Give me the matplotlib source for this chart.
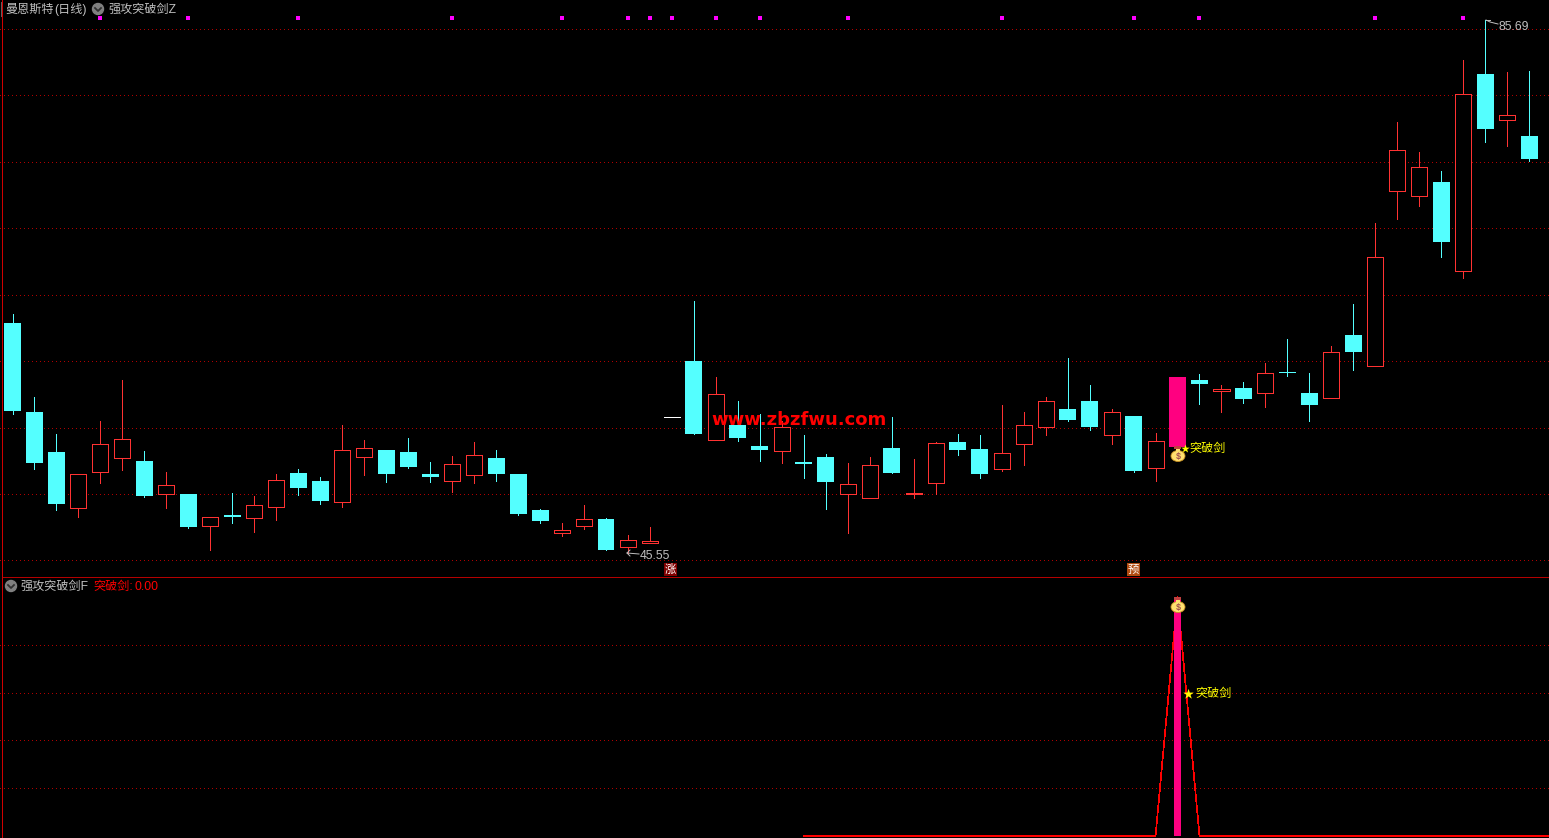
import matplotlib
matplotlib.use('Agg')
import matplotlib.pyplot as plt
from matplotlib.patches import Circle, Ellipse, Rectangle

plt.rcParams['font.family'] = ['Liberation Sans', 'Noto Sans CJK SC', 'DejaVu Sans']

#Daily bars, left to right
opens = [62.87, 56.17, 53.16, 48.95, 51.66, 52.71, 52.49, 50.00, 50.00, 47.59,
         48.42, 48.20, 49.02, 51.58, 50.98, 49.40, 52.79, 53.31, 53.16, 51.51,
         50.98, 51.43, 52.71, 51.51, 48.80, 47.07, 47.59, 48.12, 46.01, 46.31,
         55.80, 60.01, 54.07, 55.19, 53.61, 53.24, 52.41, 52.79, 50.00, 49.70,
         53.46, 50.00, 50.83, 53.92, 53.39, 51.88, 53.76, 55.04, 56.40, 57.00,
         54.44, 55.87, 51.96, 53.54, 58.58, 57.75, 57.98, 57.60, 59.18, 57.60,
         57.23, 61.97, 59.63, 72.81, 72.43, 73.48, 66.78, 81.61, 78.15, 76.94]
highs = [63.55, 57.30, 54.52, 51.51, 55.50, 58.58, 53.24, 51.66, 50.00, 48.27,
         50.08, 49.85, 51.51, 51.88, 51.28, 55.19, 54.07, 53.31, 54.22, 52.41,
         52.86, 53.92, 53.31, 51.51, 48.87, 47.82, 49.17, 48.20, 46.92, 47.52,
         55.80, 64.53, 58.81, 57.00, 56.02, 55.50, 54.44, 53.01, 52.33, 52.79,
         55.80, 52.64, 53.92, 54.52, 54.44, 56.70, 56.17, 57.30, 60.24, 58.20,
         56.40, 55.87, 54.59, 58.81, 59.03, 58.20, 58.43, 59.86, 61.67, 59.11,
         61.14, 64.30, 70.40, 78.00, 75.74, 74.31, 82.66, 85.69, 81.76, 81.84]
lows = [56.02, 51.88, 48.80, 48.27, 50.83, 51.81, 49.78, 48.95, 47.44, 45.79,
        47.82, 47.14, 48.04, 49.93, 49.25, 49.02, 51.43, 50.90, 51.96, 50.90,
        50.15, 50.83, 50.98, 48.42, 47.82, 46.84, 47.37, 45.79, 45.55, 46.31,
        55.80, 54.52, 54.07, 53.99, 52.49, 52.33, 51.21, 48.87, 47.07, 49.70,
        51.58, 49.70, 50.00, 52.94, 51.21, 51.73, 52.18, 54.44, 55.50, 54.82,
        53.76, 51.66, 50.98, 53.54, 56.77, 56.17, 56.85, 56.55, 58.88, 55.50,
        57.23, 59.33, 59.63, 70.70, 71.68, 67.84, 66.26, 76.49, 76.19, 75.06]
closes = [56.25, 52.33, 49.25, 51.51, 53.76, 54.14, 49.85, 50.68, 47.52, 48.27,
          48.27, 49.17, 51.06, 50.45, 49.47, 53.31, 53.46, 51.51, 52.03, 51.28,
          52.26, 52.94, 51.51, 48.50, 47.97, 47.29, 48.12, 45.79, 46.54, 46.46,
          55.80, 54.52, 57.53, 54.22, 53.31, 55.04, 52.26, 50.90, 50.75, 52.18,
          51.58, 50.08, 53.84, 53.31, 51.51, 53.09, 55.19, 57.00, 55.57, 55.04,
          56.17, 51.73, 53.99, 58.81, 58.28, 57.90, 57.15, 59.11, 59.11, 56.70,
          60.69, 60.69, 67.84, 75.89, 74.61, 68.97, 80.11, 77.47, 78.53, 75.21]

price_grid = [85, 80, 75, 70, 65, 60, 55, 50, 45]
marker_bars = [4, 8, 13, 20, 25, 28, 29, 30, 32, 34, 38, 45, 51, 54, 62, 66]
signal_bar = 53

#Lower panel: signal series starts at bar 36 and runs off the right edge
signal_x = [36, 52, 53, 54, 70]
signal_y = [0, 0, 1, 0, 0]
signal_grid = [0.2, 0.4, 0.6, 0.8]

CYAN = '#54FFFF'
RED = '#FF3232'
PINK = '#FF0080'
GRID = '#B00000'
FRAME = '#B40000'
GREY = '#C0C0C0'
YELLOW = '#FFFF00'

W, H = 1549, 838
fig = plt.figure(figsize=(W / 100, H / 100), dpi=100, facecolor='black')
ax = fig.add_axes([0, 1 - 577 / H, 1, 577 / H], facecolor='black')
ax2 = fig.add_axes([0, 0, 1, 260 / H], facecolor='black')
top = fig.add_axes([0, 0, 1, 1], facecolor='none')

for a in (ax, ax2):
    a.set_xlim(-0.569, 69.9)
    a.set_xticks([])
    a.set_yticks([])
    for s in a.spines.values():
        s.set_visible(False)
ax.set_ylim(87.18 - 0.07526 * 577, 87.18)
ax2.set_ylim(-0.0084, 1.0795)

top.set_xlim(0, W)
top.set_ylim(H, 0)
top.axis('off')

#Grid lines
for v in price_grid:
    ax.axhline(v, color=GRID, lw=0.72, ls=(0, (1, 3)), antialiased=False, zorder=1)
for v in signal_grid:
    ax2.axhline(v, color=GRID, lw=0.72, ls=(0, (1, 3)), antialiased=False, zorder=1)

#Candles
for i in range(len(opens)):
    o, h, l, c = opens[i], highs[i], lows[i], closes[i]
    if i == signal_bar:
        col = PINK
    elif o == c:
        col = 'white'
    elif c > o:
        col = RED
    else:
        col = CYAN
    if o == c:
        ax.hlines(o, i - 0.36, i + 0.36, color=col, lw=0.72, antialiased=False, zorder=3)
        continue
    ax.vlines(i, l, h, color=col, lw=0.72, antialiased=False, zorder=2)
    if col == RED:
        ax.bar(i, abs(c - o), bottom=min(o, c), width=0.73, facecolor='black',
               edgecolor=col, linewidth=0.72, antialiased=False, zorder=3)
    else:
        ax.bar(i, abs(c - o), bottom=min(o, c), width=0.77, color=col,
               antialiased=False, zorder=3)

ax.scatter(marker_bars, [87.18 - 0.07526 * 18] * len(marker_bars), marker='s', s=7,
           color='#FF00FF', linewidths=0, zorder=4)

#Lower panel
ax2.bar(signal_bar, 1, width=0.32, color=PINK, antialiased=False, zorder=3)
ax2.plot(signal_x, signal_y, color='#FF0000', lw=0.5, antialiased=False, zorder=2)


def label(x, y, s, color=GREY, size=8.7, **kw):
    top.text(x, y + 1, s, color=color, fontsize=size, va='center', ha='left', zorder=10, **kw)


def chevron(x, y):
    top.add_patch(Circle((x, y), 5.5, color='#808080', zorder=9))
    top.plot([x - 3, x, x + 3], [y - 1, y + 2, y - 1], color='#303030', lw=1.3, zorder=10)


def bag(x, y):
    top.add_patch(Ellipse((x, y + 2), 14, 11, facecolor='#FFE070', edgecolor='#C89020',
                          lw=0.6, zorder=9))
    top.add_patch(Rectangle((x - 3.5, y - 8), 7, 3, facecolor='#C04040', zorder=9))
    top.add_patch(Rectangle((x - 2, y - 5), 4, 2, facecolor='#FFE070', zorder=9))
    top.text(x, y + 2, '$', color='#A05050', fontsize=6.5, fontweight='bold',
             ha='center', va='center', zorder=10)


def badge(x, y, s, bg):
    top.add_patch(Rectangle((x, y), 13, 13, facecolor=bg, lw=0, zorder=9))
    top.text(x + 6.5, y + 6.5, s, color='white', fontsize=8.2, ha='center', va='center', zorder=10)


#Frame
top.plot([2.5, 2.5], [0, H], color='#D00000', lw=0.72, antialiased=False)
top.plot([3, W], [577, 577], color=FRAME, lw=0.72, antialiased=False)
top.plot([0.5, 0.5], [2, 16], color='#606060', lw=0.72, antialiased=False)

#Header texts
label(5, 9, '曼恩斯特')
label(54, 9, '(日线)')
chevron(98, 9)
label(108, 9, '强攻突破剑Z')
chevron(11, 586)
label(20, 586, '强攻突破剑F')
label(93, 586, '突破剑:', color='#FF0000')
label(135, 586, '0.00', color='#FF0000')

#High and low notes
top.plot([1486, 1490, 1498], [20, 22, 24], color=GREY, lw=0.7)
top.plot([1486, 1490], [20, 20], color=GREY, lw=0.7)
label(1499, 26, '85.69')
top.plot([627, 639], [553, 554], color=GREY, lw=0.7)
top.plot([630, 627, 630], [550, 553, 556], color=GREY, lw=0.7)
label(640, 555, '45.55')

top.text(799, 420, 'www.zbzfwu.com', color='#FF0000', fontsize=13, fontweight='bold',
         family='DejaVu Sans', ha='center', va='center', zorder=10)

badge(664, 563, '涨', '#800000')
badge(1127, 563, '预', '#B04A10')

bag(1178, 454)
bag(1178, 605)
label(1180.5, 448, '★', color=YELLOW, size=6.5)
label(1189, 448, '突破剑', color=YELLOW)
label(1183, 693, '★', color=YELLOW, size=8)
label(1195, 693, '突破剑', color=YELLOW)

fig.savefig('out.png', dpi=100, facecolor='black')
